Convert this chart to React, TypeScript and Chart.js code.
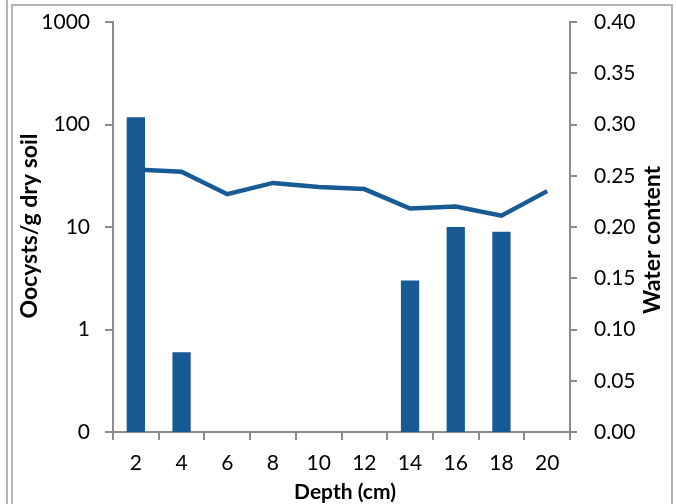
import React, { useEffect, useRef } from "react";
import { Chart, registerables } from "chart.js";

Chart.register(...registerables);

const depths = ["2", "4", "6", "8", "10", "12", "14", "16", "18", "20"];
const oocysts: (number | null)[] = [118, 0.6, null, null, null, null, 3, 10, 9, null];
const waterContent = [0.256, 0.254, 0.232, 0.243, 0.239, 0.237, 0.218, 0.22, 0.211, 0.235];
const logTicks = [0.1, 1, 10, 100, 1000];

const BLUE = "#175a94";
const AXIS = "#8c8c8c";
const FONT = "Lato";

const titlesPlugin = {
  id: "titles",
  afterDraw(chart: any) {
    const ctx = chart.ctx;
    ctx.save();
    ctx.fillStyle = "#000";
    ctx.textAlign = "center";
    ctx.textBaseline = "middle";
    ctx.font = `bold 23px ${FONT}`;
    ctx.save();
    ctx.translate(30, 226);
    ctx.rotate(-Math.PI / 2);
    ctx.fillText("Oocysts/g dry soil", 0, 0);
    ctx.restore();
    ctx.save();
    ctx.translate(653, 240);
    ctx.rotate(-Math.PI / 2);
    ctx.fillText("Water content", 0, 0);
    ctx.restore();
    ctx.font = `bold 21px ${FONT}`;
    ctx.fillText("Depth (cm)", 345, 492);
    ctx.restore();
  },
};

export default function App() {
  const ref = useRef<HTMLCanvasElement>(null);
  useEffect(() => {
    const chart = new Chart(ref.current!, {
      type: "bar",
      data: {
        labels: depths,
        datasets: [
          {
            type: "line",
            data: waterContent,
            yAxisID: "y1",
            borderColor: BLUE,
            borderWidth: 4.5,
            pointRadius: 0,
            tension: 0,
            order: 2,
          } as any,
          {
            type: "bar",
            data: oocysts,
            yAxisID: "y",
            backgroundColor: BLUE,
            barPercentage: 0.4,
            categoryPercentage: 1,
            order: 1,
          },
        ],
      },
      options: {
        responsive: false,
        animation: false,
        layout: { padding: { top: 22, left: 0, right: 0, bottom: 0 } },
        plugins: { legend: { display: false }, tooltip: { enabled: false } },
        scales: {
          x: {
            offset: true,
            grid: { offset: true, drawOnChartArea: false, drawTicks: true, tickLength: 8, color: AXIS, lineWidth: 2 },
            border: { display: true, color: AXIS, width: 2 },
            ticks: { color: "#000", font: { family: FONT, size: 21 }, padding: 11, maxRotation: 0 },
            afterFit(s: any) { s.height = 72; s.paddingLeft = 0; s.paddingRight = 0; },
          },
          y: {
            type: "logarithmic",
            position: "left",
            min: 0.1,
            max: 1000,
            afterBuildTicks(s: any) { s.ticks = logTicks.map((v) => ({ value: v })); },
            grid: { drawOnChartArea: false, drawTicks: true, tickLength: 8, color: AXIS, lineWidth: 2 },
            border: { display: true, color: AXIS, width: 2 },
            ticks: {
              color: "#000",
              font: { family: FONT, size: 21 },
              padding: 15,
              autoSkip: false,
              callback: (v: any) => (Number(v) < 0.5 ? "0" : String(Number(v))),
            },
            afterFit(s: any) { s.width = 113; s.paddingTop = 0; s.paddingBottom = 0; },
          },
          y1: {
            type: "linear",
            position: "right",
            min: 0,
            max: 0.4,
            grid: { drawOnChartArea: false, drawTicks: true, tickLength: 7, color: AXIS, lineWidth: 2 },
            border: { display: true, color: AXIS, width: 2 },
            ticks: {
              stepSize: 0.05,
              color: "#000",
              font: { family: FONT, size: 21 },
              padding: 17,
              callback: (v: any) => Number(v).toFixed(2),
            },
            afterFit(s: any) { s.width = 106; s.paddingTop = 0; s.paddingBottom = 0; },
          },
        },
      },
      plugins: [titlesPlugin],
    });
    return () => chart.destroy();
  }, []);

  return (
    <div style={{ position: "fixed", left: 0, top: 0, width: 676, height: 504, background: "#fff" }}>
      <div style={{ position: "absolute", left: 6, top: 0, width: 2, height: 504, background: "#b4b4b4" }} />
      <div
        style={{
          position: "absolute",
          left: 11,
          top: 4,
          width: 658,
          height: 504,
          borderTop: "2px solid #b4b4b4",
          borderLeft: "2px solid #b4b4b4",
          borderRight: "2px solid #b4b4b4",
        }}
      />
      <canvas ref={ref} width={676} height={504} style={{ position: "absolute", left: 0, top: 0 }} />
    </div>
  );
}
